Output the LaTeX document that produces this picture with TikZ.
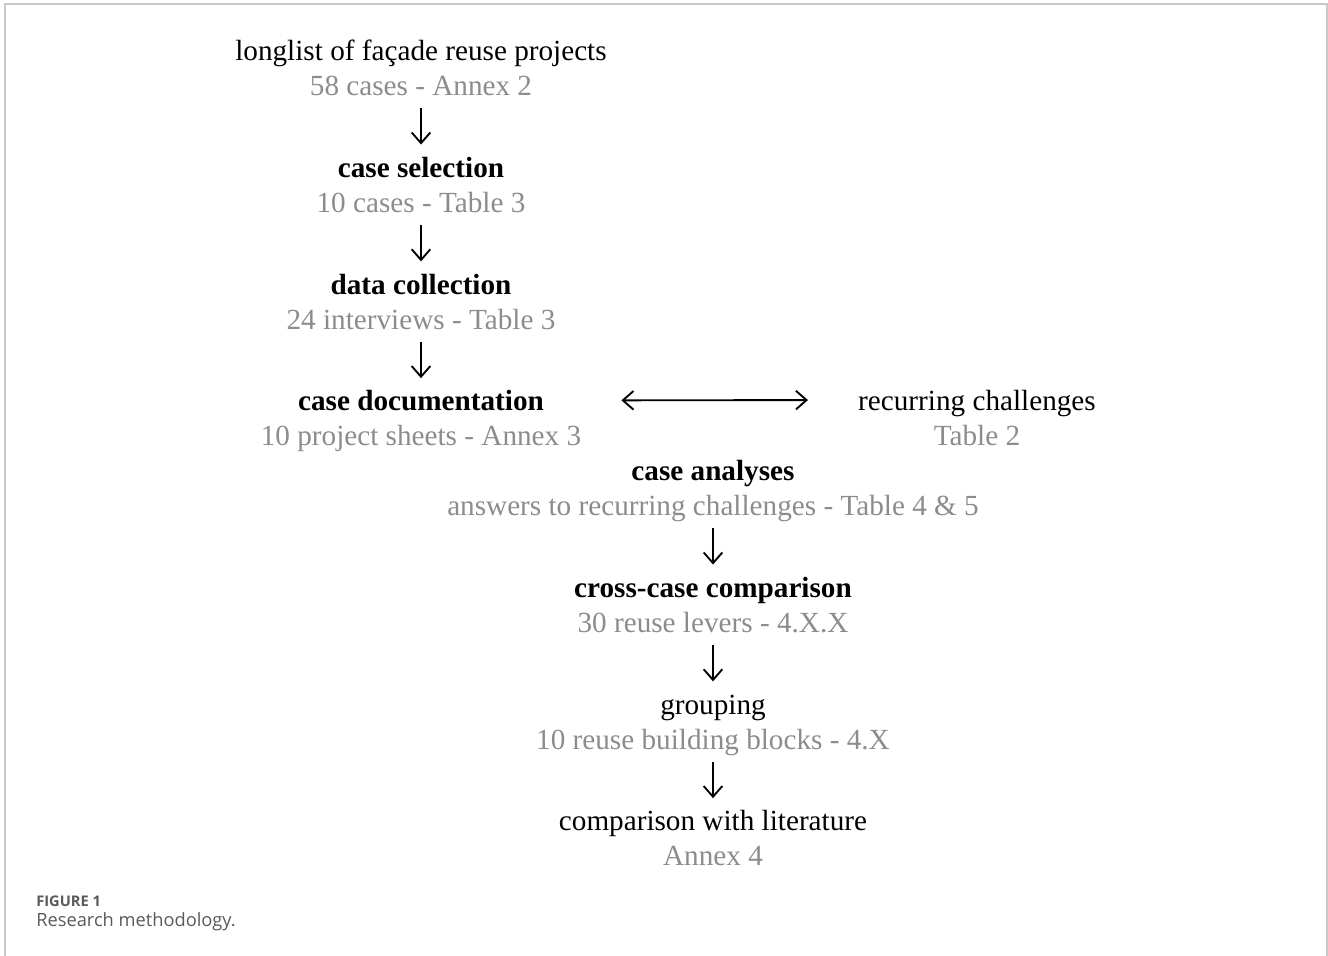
\documentclass[tikz,border=0pt]{standalone}
\usepackage{fontspec}
\setmainfont{Liberation Serif}
\newfontfamily\capfont{Open Sans}
\usepackage{xcolor}
\usetikzlibrary{arrows.meta, positioning}
\definecolor{subgray}{RGB}{140, 140, 140}
\definecolor{framegray}{RGB}{200, 200, 200}
\definecolor{capgray}{RGB}{90, 90, 90}
\newcommand{\stepsub}[1]{{\color{subgray}\strut #1}}

\begin{document}
\begin{tikzpicture}[x=0.75pt, y=-0.75pt, node distance=34.7pt,
  stage/.style={align=center, inner sep=0pt, font=\fontsize{21.9}{26.25}\selectfont},
  flow/.style={-{Straight Barb[length=8pt, width=14pt]}, line width=1.4pt, shorten <=1.5pt, shorten >=6pt}]
  \useasboundingbox (0,0) rectangle (1328,956);
  \draw[framegray, line width=1.5pt] (4.5,956) -- (4.5,4.5) -- (1327,4.5) -- (1327,956);
  % left column
  \node[stage] (longlist) at (421,71) {\strut longlist of façade reuse projects\\ \stepsub{58 cases - Annex 2}};
  \node[stage, below=of longlist] (selection) {\strut\textbf{case selection}\\ \stepsub{10 cases - Table 3}};
  \node[stage, below=of selection] (collection) {\strut\textbf{data collection}\\ \stepsub{24 interviews - Table 3}};
  \node[stage, below=of collection] (docu) {\strut\textbf{case documentation}\\ \stepsub{10 project sheets - Annex 3}};
  \node[stage] (recur) at (977,421) {\strut recurring challenges\\ \stepsub{Table 2}};
  % right column
  \node[stage] (analyses) at (713,491) {\strut\textbf{case analyses}\\ \stepsub{answers to recurring challenges - Table 4 \& 5}};
  \node[stage, below=of analyses] (crosscase) {\strut\textbf{cross-case comparison}\\ \stepsub{30 reuse levers - 4.X.X}};
  \node[stage, below=of crosscase] (grouping) {\strut grouping\\ \stepsub{10 reuse building blocks - 4.X}};
  \node[stage, below=of grouping] (literature) {\strut comparison with literature\\ \stepsub{Annex 4}};
  \draw[flow] (longlist) -- (selection);
  \draw[flow] (selection) -- (collection);
  \draw[flow] (collection) -- (docu);
  \draw[flow, {Straight Barb[length=8pt, width=14pt]}-{Straight Barb[length=8pt, width=14pt]}, shorten <=30pt, shorten >=37.5pt] ([yshift=15.75pt]docu.east) -- ([yshift=15.75pt]recur.west);
  \draw[flow] (analyses) -- (crosscase);
  \draw[flow] (crosscase) -- (grouping);
  \draw[flow] (grouping) -- (literature);
  % caption
  \node[anchor=base west, inner sep=0pt, font=\capfont\bfseries\fontsize{11}{13}\selectfont, text=capgray] (figlabel) at (36,906) {FIGURE 1};
  \node[anchor=base west, inner sep=0pt, font=\capfont\fontsize{13.7}{16}\selectfont, text=capgray] (figtitle) at (36,926) {Research methodology.};
\end{tikzpicture}
\end{document}
